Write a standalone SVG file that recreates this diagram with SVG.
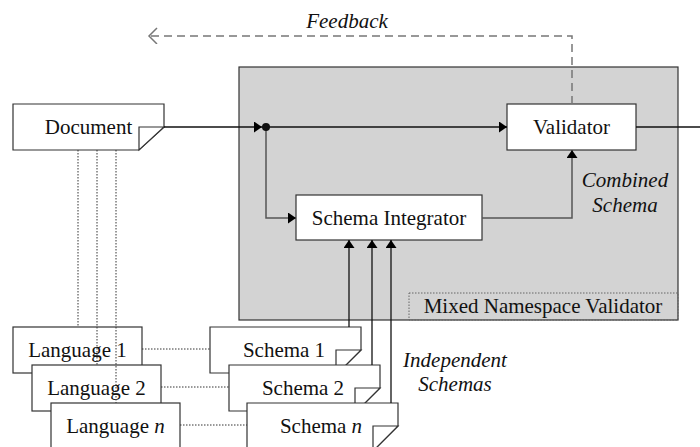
<svg xmlns="http://www.w3.org/2000/svg" width="700" height="447" viewBox="0 0 700 447">
<defs>
<style>
.box{fill:#fff;stroke:#333;stroke-width:1.2}
.ln{fill:none;stroke:#111;stroke-width:1.3}
.lg{fill:none;stroke:#555;stroke-width:1.5}
.dot{fill:none;stroke:#333;stroke-width:1;stroke-dasharray:1.5,1.5}
.dash{fill:none;stroke:#777;stroke-width:1.5;stroke-dasharray:8,5}
text{font-family:'Liberation Serif','Times New Roman',Tinos,'DejaVu Serif',serif;font-size:21px;fill:#111;text-anchor:middle}
</style>
<marker id="ah" markerUnits="userSpaceOnUse" markerWidth="9" markerHeight="11" refX="8" refY="5.5" orient="auto">
<path d="M0,0 L8,5.5 L0,11 Z" fill="#000"/>
</marker>
<marker id="oa" markerUnits="userSpaceOnUse" markerWidth="12" markerHeight="18" refX="9" refY="8" orient="auto">
<path d="M1,0 L9,8 L1,16" fill="none" stroke="#777" stroke-width="1.5"/>
</marker>
</defs>

<g id="mixed-namespace-validator">
<rect x="239" y="67" width="439" height="253" fill="#d3d3d3" stroke="#333" stroke-width="1.2"/>
<rect x="409" y="293" width="269" height="27" fill="none" stroke="#666" stroke-width="1" stroke-dasharray="1.5,1.5"/>
<text x="543" y="313">Mixed Namespace Validator</text>
</g>

<g id="document">
<path class="box" d="M13,104 H164 V127 L139,150 H13 Z"/>
<path class="box" d="M164,127 H139 V150 Z"/>
<text x="88.5" y="134">Document</text>
</g>

<g id="validator">
<rect class="box" x="507" y="104" width="129" height="46"/>
<text x="571.5" y="134">Validator</text>
</g>

<g id="schema-integrator">
<rect class="box" x="296" y="195" width="186" height="45"/>
<text x="389" y="225">Schema Integrator</text>
</g>

<g id="language-1">
<rect class="box" x="13" y="327" width="129" height="46"/>
<text x="77.5" y="357">Language 1</text>
</g>
<g id="language-2">
<rect class="box" x="32" y="365" width="129" height="46"/>
<text x="96.5" y="395">Language 2</text>
</g>
<g id="language-n">
<rect class="box" x="51" y="403" width="129" height="46"/>
<text x="115.5" y="433">Language <tspan font-style="italic">n</tspan></text>
</g>

<g id="schema-1">
<path class="box" d="M210,327 H361 V350 L338,373 H210 Z"/>
<path class="box" d="M361,350 H336 V373 L338,373 Z"/>
<text x="284" y="357">Schema 1</text>
</g>
<g id="schema-2">
<path class="box" d="M229,365 H380 V388 L357,411 H229 Z"/>
<path class="box" d="M380,388 H355 V411 L357,411 Z"/>
<text x="303" y="395">Schema 2</text>
</g>
<g id="schema-n">
<path class="box" d="M247,403 H398 V426 L375,449 H247 Z"/>
<path class="box" d="M398,426 H373 V449 L375,449 Z"/>
<text x="321" y="433">Schema <tspan font-style="italic">n</tspan></text>
</g>

<g id="labels" font-style="italic">
<text x="347" y="28">Feedback</text>
<text x="625" y="187">Combined</text>
<text x="625" y="212">Schema</text>
<text x="455" y="367">Independent</text>
<text x="455" y="391">Schemas</text>
</g>

<g id="connectors">
<path class="ln" d="M164,127 H262" marker-end="url(#ah)"/>
<path class="ln" d="M262,127 H507" marker-end="url(#ah)"/>
<path class="ln" d="M636,127 H700"/>
<path class="lg" d="M266,127 V218 H296" marker-end="url(#ah)"/>
<circle cx="266" cy="127" r="4" fill="#111"/>
<path class="lg" d="M482,218 H572 V150" marker-end="url(#ah)"/>
<path class="dash" d="M572,104 V36 H149" marker-end="url(#oa)"/>
<path class="ln" d="M349,327 V240" marker-end="url(#ah)"/>
<path class="ln" d="M372,365 V240" marker-end="url(#ah)"/>
<path class="ln" d="M391,403 V240" marker-end="url(#ah)"/>
<path class="dot" d="M78,150 V327 M97,150 V365 M116,150 V403"/>
<path class="dot" d="M142,349 H210 M161,387 H229 M180,425 H247"/>
</g>
</svg>
